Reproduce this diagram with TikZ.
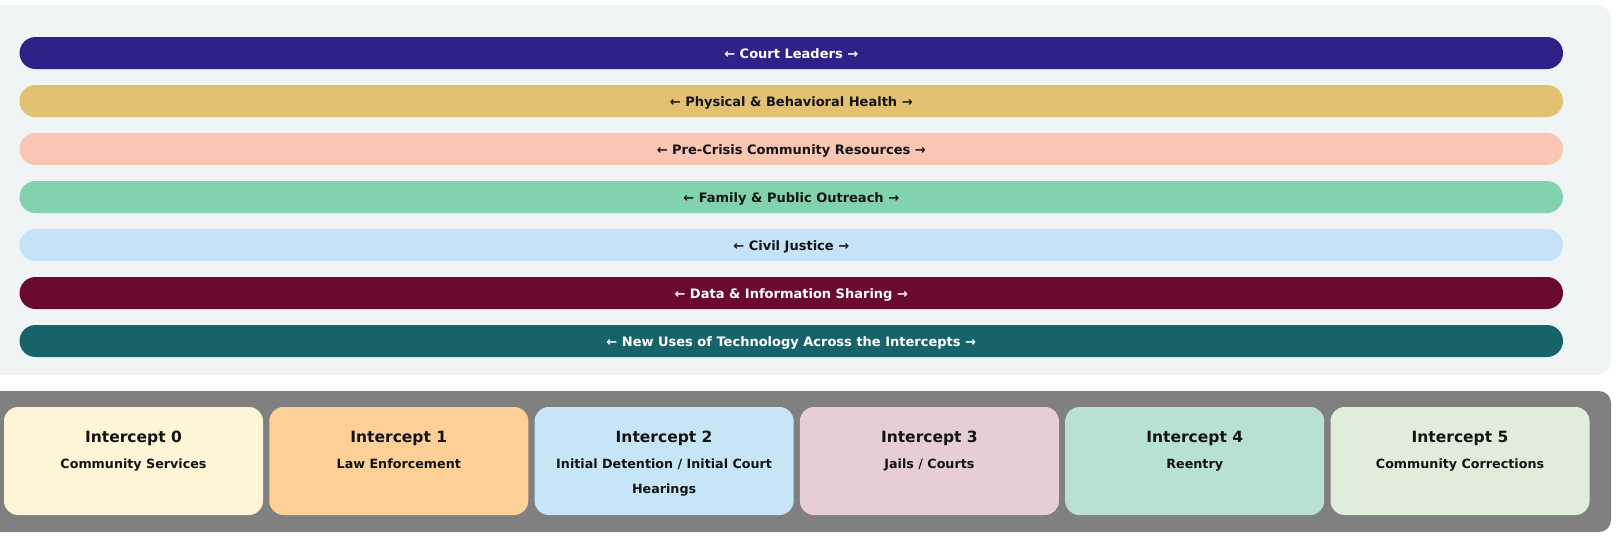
\documentclass[tikz,border=0pt]{standalone}
\usepackage{fontspec}
\setmainfont{DejaVu Sans}
\definecolor{panelbg}{HTML}{F1F4F4}
\definecolor{cLead}{HTML}{2E2188}
\definecolor{cHealth}{HTML}{E2C173}
\definecolor{cPre}{HTML}{F9C6B4}
\definecolor{cFam}{HTML}{82D1AF}
\definecolor{cCivil}{HTML}{C5E2F8}
\definecolor{cData}{HTML}{6B0A2F}
\definecolor{cTech}{HTML}{17636A}
\definecolor{grayband}{HTML}{808080}
\definecolor{b0}{HTML}{FEF4D6}
\definecolor{b1}{HTML}{FDD097}
\definecolor{b2}{HTML}{C6E5F6}
\definecolor{b3}{HTML}{E6CED4}
\definecolor{b4}{HTML}{B8E0D4}
\definecolor{b5}{HTML}{E1EDDB}
\definecolor{ink}{HTML}{141414}
\tikzset{
  bar/.style={rounded corners=16pt, minimum width=1543.5pt, minimum height=32pt, inner sep=0pt,
    text height=11pt, text depth=0pt,
    font=\bfseries\fontsize{13}{15}\selectfont},
  darkbar/.style={bar, text=white},
  lightbar/.style={bar, text=ink},
  ibox/.style={rounded corners=14pt, minimum width=259pt, minimum height=108pt, inner sep=0pt},
  ititle/.style={font=\bfseries\fontsize{15.5}{18}\selectfont, text=ink, inner sep=0pt,
    text height=11.8pt, text depth=3.6pt},
  isub/.style={font=\bfseries\fontsize{12.7}{25}\selectfont, text=ink, inner sep=0pt, align=center},
  isubone/.style={isub, text height=9.6pt, text depth=3pt},
}
\begin{document}
\begin{tikzpicture}[x=1pt,y=-1pt]
\useasboundingbox (0,0) rectangle (1621,541);
\clip (0,0) rectangle (1621,541);
% panels
\fill[panelbg, rounded corners=14pt] (-30,5) rectangle (1611,375);
\fill[grayband, rounded corners=12pt] (-30,391) rectangle (1611,532);
% bars
\node[darkbar, fill=cLead] (lead) at (791.25,53) {← Court Leaders →};
\node[lightbar, fill=cHealth] (health) at (791.25,101) {← Physical \& Behavioral Health →};
\node[lightbar, fill=cPre] (pre) at (791.25,149) {← Pre-Crisis Community Resources →};
\node[lightbar, fill=cFam] (fam) at (791.25,197) {← Family \& Public Outreach →};
\node[lightbar, fill=cCivil] (civil) at (791.25,245) {← Civil Justice →};
\node[darkbar, fill=cData] (data) at (791.25,293) {← Data \& Information Sharing →};
\node[darkbar, fill=cTech] (tech) at (791.25,341) {← New Uses of Technology Across the Intercepts →};
% intercept boxes
\node[ibox, fill=b0] (box0) at (133.5,461) {};
\node[ibox, fill=b1] (box1) at (398.8,461) {};
\node[ibox, fill=b2] (box2) at (664.1,461) {};
\node[ibox, fill=b3] (box3) at (929.4,461) {};
\node[ibox, fill=b4] (box4) at (1194.7,461) {};
\node[ibox, fill=b5] (box5) at (1460.0,461) {};
\foreach \i in {0,...,5}{
  \node[ititle] (t\i) at ([yshift=-31.5pt]box\i.north) {Intercept \i};
}
\node[isubone] (s0) at ([yshift=-58.5pt]box0.north) {Community Services};
\node[isubone] (s1) at ([yshift=-58.5pt]box1.north) {Law Enforcement};
\node[isub] (s2) at ([yshift=-71pt]box2.north) {Initial Detention / Initial Court\\Hearings};
\node[isubone] (s3) at ([yshift=-58.5pt]box3.north) {Jails / Courts};
\node[isubone] (s4) at ([yshift=-58.5pt]box4.north) {Reentry};
\node[isubone] (s5) at ([yshift=-58.5pt]box5.north) {Community Corrections};
\end{tikzpicture}
\end{document}
